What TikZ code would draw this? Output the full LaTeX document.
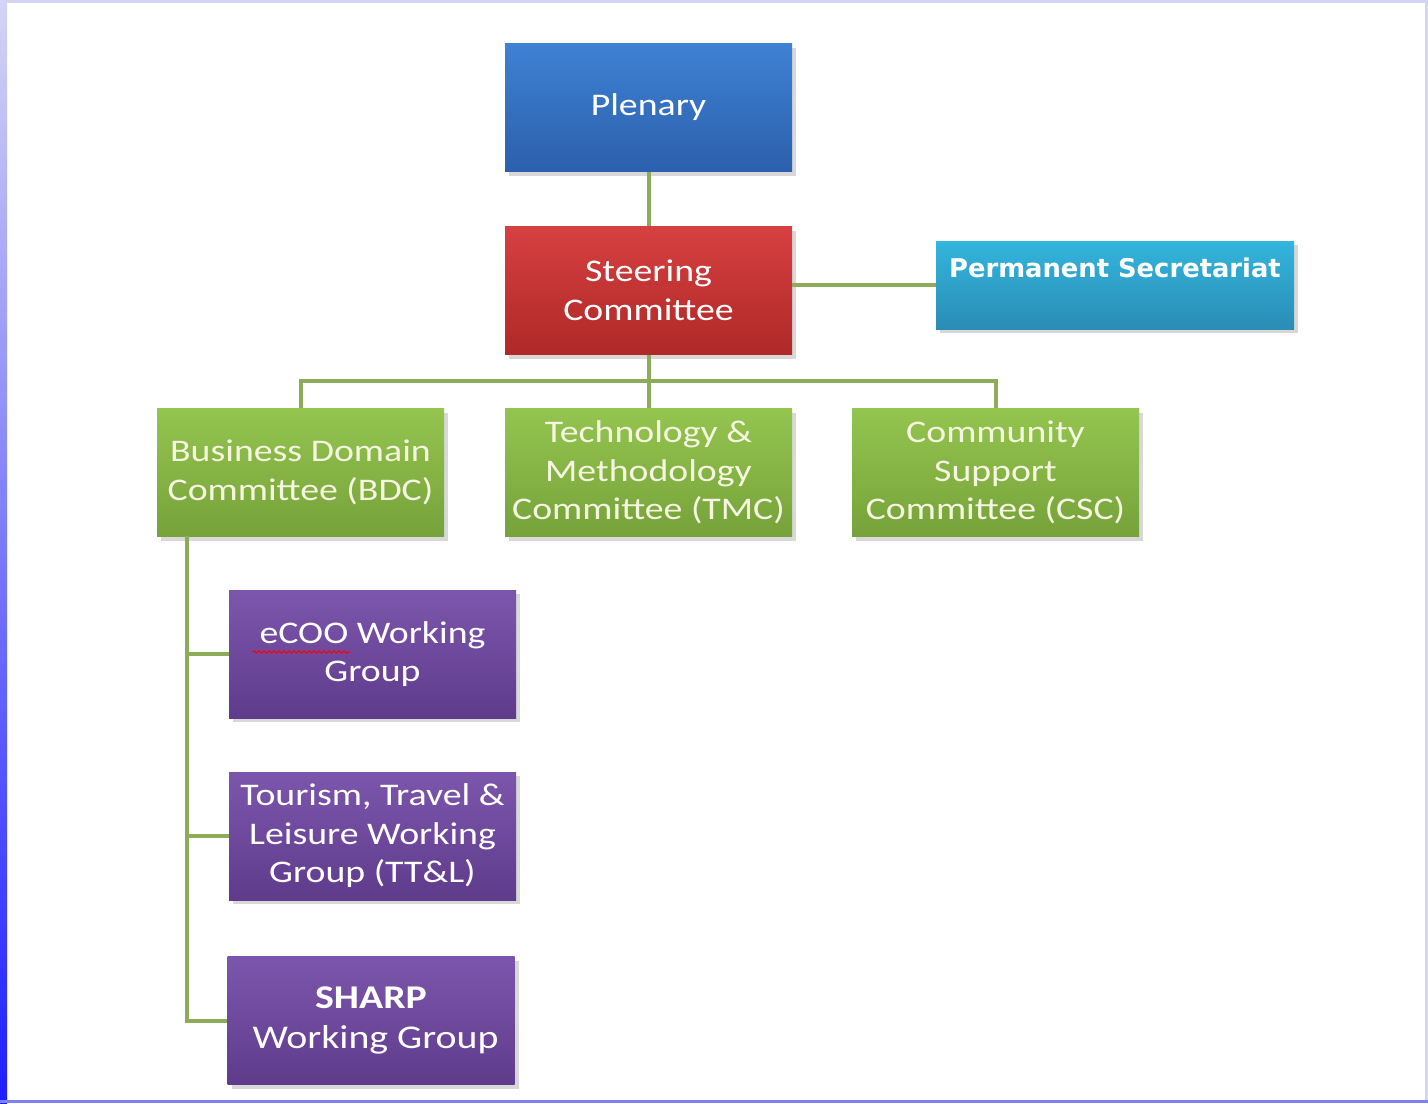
\documentclass[tikz,border=0pt]{standalone}
\usepackage{fontspec}
\setmainfont{Carlito}[FakeStretch=1.2]
\newfontfamily\psfont{DejaVu Sans}
\usetikzlibrary{shadows, decorations.pathmorphing}
\definecolor{linkgreen}{HTML}{8EAB5A}
\definecolor{frame}{HTML}{D4D4F4}
\tikzset{
    box/.style = {
        rectangle, inner sep=0pt,
        minimum width=143.5pt,
        minimum height=64pt,
        align=center, text=white,
        font=\fontsize{15.75}{19.25}\selectfont,
        drop shadow={opacity=0.3, shadow xshift=2pt, shadow yshift=-2pt}
    },
    plenarybox/.style = {
        box, top color={rgb,255:red,63;green,129;blue,211},
        bottom color={rgb,255:red,43;green,96;blue,173}
    },
    steerbox/.style = {
        box, top color={rgb,255:red,214;green,64;blue,64},
        bottom color={rgb,255:red,176;green,40;blue,40}
    },
    secbox/.style = {
        box, minimum width=179pt, minimum height=44pt,
        text height=9.5pt, text depth=17pt,
        font=\psfont\bfseries\fontsize{12.9}{15}\selectfont,
        top color={rgb,255:red,51;green,181;blue,221},
        bottom color={rgb,255:red,42;green,141;blue,181}
    },
    committee/.style = {
        box, text={rgb,255:red,245;green,245;blue,225},
        top color={rgb,255:red,148;green,197;blue,79},
        bottom color={rgb,255:red,118;green,162;blue,58}
    },
    workgroup/.style = {
        box, top color={rgb,255:red,124;green,86;blue,172},
        bottom color={rgb,255:red,95;green,59;blue,140}
    },
    link/.style = {
        linkgreen, line width=2pt
    },
    squiggle/.style = {
        red, line width=0.5pt, decorate,
        decoration={snake, amplitude=0.6pt, segment length=2.5pt}
    }
}
\begin{document}
\begin{tikzpicture}[x=0.5pt, y=-0.5pt]

% page and frame
\useasboundingbox (0,0) rectangle (1428,1103);
\fill[white] (0,0) rectangle (1428,1103);
\shade[top color=frame, bottom color={rgb,255:red,30;green,30;blue,255}] (0,0) rectangle (7,1103);
\fill[frame] (0,0) rectangle (1428,3);
\fill[frame] (1425,0) rectangle (1428,1103);
\fill[frame!60!blue] (0,1100) rectangle (1428,1103);

\node (plenary) [plenarybox] at (648.5,107.5) {Plenary};
\node (steering) [steerbox] at (648.5,290.5) {Steering\\Committee};
\node (secretariat) [secbox] at (1115,285) {Permanent Secretariat};
\node (bdc) [committee] at (300.5,472.5) {Business Domain\\Committee (BDC)};
\node (tmc) [committee] at (648.5,472.5) {Technology \&\\Methodology\\Committee (TMC)};
\node (csc) [committee] at (995.5,472.5) {Community\\Support\\Committee (CSC)};
\node (ecoo) [workgroup] at (372.5,654) {eCOO Working\\Group};
\node (ttl) [workgroup] at (372.5,836) {Tourism, Travel \&\\Leisure Working\\Group (TT\&L)};
\node (sharp) [workgroup, font=\fontsize{16.6}{20}\selectfont] at (371,1020.5) {\textbf{SHARP}\\\ Working Group};

% spell-check mark under eCOO
\draw [squiggle] ([xshift=-60pt, yshift=1pt]ecoo.center) -- ([xshift=-11pt, yshift=1pt]ecoo.center);

\coordinate (bus) at (648.5,381);
\coordinate (trunk) at (187,536);

\draw [link] (plenary) -- (steering);
\draw [link] (secretariat.west) -- (secretariat.west -| steering.east);
\draw [link] (steering) -- (bus);
\draw [link] (bus) -| (bdc);
\draw [link] (bus) -- (tmc);
\draw [link] (bus) -| (csc);
\draw [link] (trunk) |- (sharp.west);
\draw [link] (trunk |- ecoo.west) -- (ecoo.west);
\draw [link] (trunk |- ttl.west) -- (ttl.west);

\end{tikzpicture}
\end{document}
